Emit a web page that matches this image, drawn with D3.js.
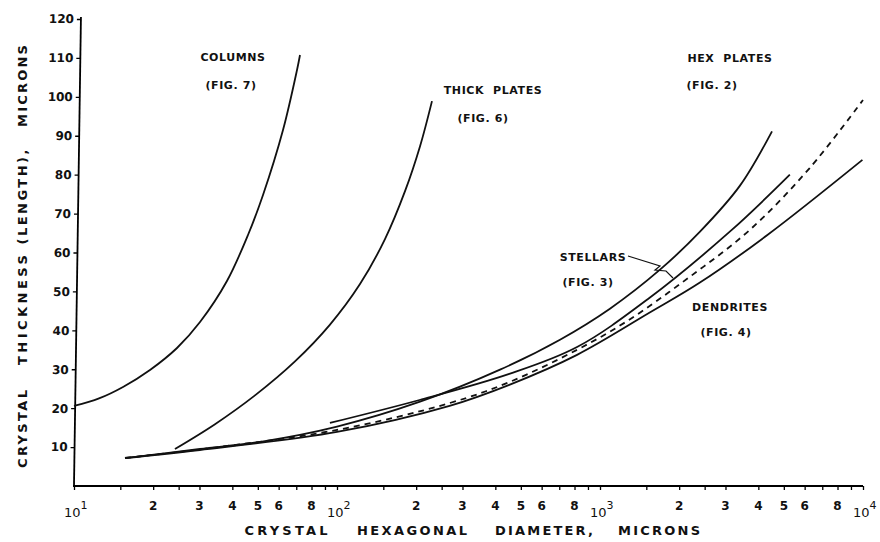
<script src="https://d3js.org/d3.v7.min.js"></script>

<style>
  body { margin: 0; background: #fff; }
  text { font-family: "DejaVu Sans", sans-serif; font-weight: bold; fill: #111; }
</style>

<body>
  <svg id="vis"></svg>
</body>

<script>
  // - - - - data (diameter in microns, thickness in microns) - - - -
  var columnsD = [10, 12.45, 15.36, 19.45, 24.64, 30.14, 38.16, 45.87, 52.32, 62.33, 70.46, 72.33];
  var columnsT = [20.56, 22.5, 25.44, 29.81, 35.46, 42.14, 52.68, 64.5, 74.78, 91.48, 106.9, 110.75];

  var thickD = [24.2, 34.37, 48.77, 69.22, 94.06, 122.3, 152.2, 181.4, 206.9, 229.7];
  var thickT = [9.5, 15.88, 23.28, 32.01, 41.47, 51.88, 63.45, 75.77, 87.32, 98.9];

  var hexD = [15.63, 30.14, 51.86, 100, 206.9, 416.8, 704.6, 1091, 1691, 2400, 3406, 4508];
  var hexT = [7.19, 9.51, 11.41, 15.26, 21.66, 29.89, 37.6, 45.57, 55.59, 65.36, 77.18, 91.14];

  var stellarD = [94, 206, 452, 818, 1540, 3170, 5270];
  var stellarT = [16.2, 22.1, 28.8, 35.7, 48.3, 65.8, 80];

  var dashD = [15.63, 30.1, 100, 268, 452, 818, 1256, 2170, 3710, 6270, 10000];
  var dashT = [7.19, 9.4, 14.4, 21.3, 26.7, 35, 42.2, 53.5, 65.8, 81.7, 99.2];

  var dendD = [15.63, 30.1, 100, 268, 452, 818, 1540, 2390, 4330, 9950];
  var dendT = [7.19, 9.25, 13.9, 20.6, 26, 33.7, 44.5, 52.2, 64.5, 83.8];

  var yTicks = [10, 20, 30, 40, 50, 60, 70, 80, 90, 100, 110, 120];
  var xLabelled = [2, 3, 4, 5, 6, 8];
  var xMinor = [1.5, 2, 2.5, 3, 4, 5, 6, 7, 8, 9];
  var decades = [1, 2, 3, 4];

  var labels = [
    {text: "COLUMNS", x: 233, y: 61},
    {text: "(FIG. 7)", x: 231, y: 89},
    {text: "THICK  PLATES", x: 493, y: 94},
    {text: "(FIG. 6)", x: 483, y: 122},
    {text: "HEX  PLATES", x: 730, y: 62},
    {text: "(FIG. 2)", x: 712, y: 89},
    {text: "STELLARS", x: 593, y: 261},
    {text: "(FIG. 3)", x: 588, y: 286},
    {text: "DENDRITES", x: 730, y: 311},
    {text: "(FIG. 4)", x: 726, y: 336}
  ];

  // axis title words: [text, centre, length]
  var xTitle = [["CRYSTAL", 286, 83], ["HEXAGONAL", 412, 110], ["DIAMETER,", 544, 98], ["MICRONS", 659, 82]];
  var yTitle = [["CRYSTAL", 429, 78], ["THICKNESS", 310, 110], ["(LENGTH),", 197, 95], ["MICRONS", 86, 82]];

  var W = 880, H = 542;
  var svg = d3.select("#vis").attr("width", W).attr("height", H);

  // scales
  var xscale = d3.scaleLog().domain([10, 10000]).range([74, 863]);
  var yscale = d3.scaleLinear().domain([0, 120]).range([486, 19]);

  // x axis ticks (per decade)
  var minorVals = [];
  decades.slice(0, 3).forEach(function(p) {
    xMinor.forEach(function(m) { minorVals.push(m * Math.pow(10, p)); });
  });
  var majorVals = decades.map(function(p) { return Math.pow(10, p); });

  var xAxis = d3.axisBottom(xscale)
    .tickValues(minorVals.concat(majorVals))
    .tickSize(4)
    .tickFormat("");
  var gx = svg.append("g")
    .attr("transform", "translate(0," + yscale(0) + ")")
    .call(xAxis);
  gx.select(".domain").attr("stroke-width", 2).attr("d", "M73,0H863");
  gx.selectAll(".tick line").attr("stroke-width", 1.3);

  // labels for 2,3,4,5,6,8
  decades.slice(0, 3).forEach(function(p) {
    xLabelled.forEach(function(m) {
      svg.append("text")
        .attr("x", xscale(m * Math.pow(10, p)))
        .attr("y", 510)
        .attr("text-anchor", "middle")
        .attr("font-size", 12)
        .text(m);
    });
  });
  // powers of ten
  majorVals.forEach(function(v, i) {
    var t = svg.append("text")
      .attr("x", xscale(v) - 10)
      .attr("y", 517)
      .attr("font-size", 13)
      .style("font-weight", "normal");
    t.append("tspan").text("10");
    t.append("tspan").attr("dy", -8).attr("font-size", 11).text(decades[i]);
  });

  // y axis (the scan is tilted slightly, so skew it a touch)
  var yAxis = d3.axisLeft(yscale)
    .tickValues(yTicks)
    .tickSize(4)
    .tickPadding(3);
  var gy = svg.append("g")
    .attr("transform", "translate(81.2,0) skewX(-0.85)")
    .call(yAxis);
  gy.select(".domain").attr("stroke-width", 1.8).attr("d", "M0,486V17");
  gy.selectAll(".tick line").attr("stroke-width", 1.3);
  gy.selectAll(".tick text")
    .attr("font-size", 12)
    .attr("font-family", "DejaVu Sans")
    .attr("font-weight", "bold")
    .attr("fill", "#111");

  // axis titles, word by word
  svg.selectAll(".xtitle")
    .data(xTitle)
    .enter().append("text")
    .attr("class", "xtitle")
    .attr("x", function(d) { return d[1] - d[2] / 2; })
    .attr("y", 535)
    .attr("font-size", 13)
    .attr("textLength", function(d) { return d[2]; })
    .attr("lengthAdjust", "spacing")
    .text(function(d) { return d[0]; });

  svg.selectAll(".ytitle")
    .data(yTitle)
    .enter().append("text")
    .attr("class", "ytitle")
    .attr("transform", function(d) { return "translate(27," + (d[1] + d[2] / 2) + ") rotate(-90)"; })
    .attr("font-size", 13)
    .attr("textLength", function(d) { return d[2]; })
    .attr("lengthAdjust", "spacing")
    .text(function(d) { return d[0]; });

  // curves
  function pairs(ds, ts) {
    return ds.map(function(d, i) { return [d, ts[i]]; });
  }
  var line = d3.line()
    .x(function(p) { return xscale(p[0]); })
    .y(function(p) { return yscale(p[1]); })
    .curve(d3.curveCatmullRom.alpha(0.5));

  var series = [
    {pts: pairs(columnsD, columnsT), dash: null},
    {pts: pairs(thickD, thickT), dash: null},
    {pts: pairs(hexD, hexT), dash: null},
    {pts: pairs(stellarD, stellarT), dash: null},
    {pts: pairs(dendD, dendT), dash: null},
    {pts: pairs(dashD, dashT), dash: "6,5"}
  ];

  svg.selectAll(".curve")
    .data(series)
    .enter().append("path")
    .attr("class", "curve")
    .attr("d", function(s) { return line(s.pts); })
    .attr("fill", "none")
    .attr("stroke", "#111")
    .attr("stroke-width", 1.8)
    .attr("stroke-dasharray", function(s) { return s.dash; });

  // curve labels
  svg.selectAll(".lbl")
    .data(labels)
    .enter().append("text")
    .attr("class", "lbl")
    .attr("x", function(d) { return d.x; })
    .attr("y", function(d) { return d.y; })
    .attr("text-anchor", "middle")
    .attr("font-size", 11)
    .attr("letter-spacing", 0.6)
    .attr("xml:space", "preserve")
    .text(function(d) { return d.text; });

  // stellars pointer
  svg.append("path")
    .attr("d", "M628,256 L660,266 L655,270 L666,271 L673,278")
    .attr("fill", "none")
    .attr("stroke", "#111")
    .attr("stroke-width", 1.2);
</script>
